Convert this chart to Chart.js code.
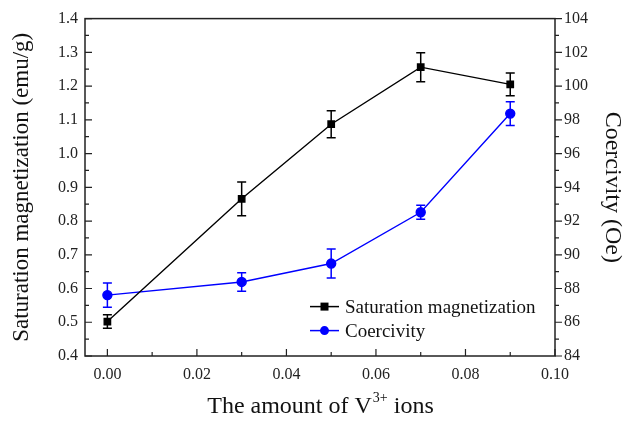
<!DOCTYPE html>
<html>
<head>
<meta charset="utf-8">
<script src="https://cdn.jsdelivr.net/npm/chart.js@4.4.1/dist/chart.umd.min.js"></script>
<style>
  html, body { margin: 0; padding: 0; background: #fff; }
  #wrap { width: 637px; height: 421px; }
</style>
</head>
<body>
<div id="wrap"><canvas id="myChart" width="637" height="421"></canvas></div>
<script>
const vAmount = [0, 0.03, 0.05, 0.07, 0.09];
const magnetization = [0.502, 0.866, 1.087, 1.256, 1.205];
const magnetizationErr = [0.02, 0.05, 0.04, 0.043, 0.034];
const coercivity = [87.61, 88.39, 89.48, 92.52, 98.37];
const coercivityErr = [0.72, 0.55, 0.86, 0.42, 0.7];

const serif = '"Liberation Serif", "Times New Roman", serif';
const axisColor = '#222';

function points(ys) {
    return vAmount.map((x, i) => ({x: x, y: ys[i]}));
}

// error bars, inward/outward ticks, frame, legend and x title
const extras = {
    id: 'extras',
    afterDatasetsDraw(chart) {
        const c = chart.ctx;
        const xs = chart.scales.x;
        chart.data.datasets.forEach((ds, di) => {
            const ys = chart.scales[ds.yAxisID];
            c.save();
            c.strokeStyle = ds.borderColor;
            c.lineWidth = 1.5;
            ds.data.forEach((p, i) => {
                const px = xs.getPixelForValue(p.x);
                const top = ys.getPixelForValue(p.y + ds.errors[i]);
                const bot = ys.getPixelForValue(p.y - ds.errors[i]);
                c.beginPath();
                c.moveTo(px, top); c.lineTo(px, bot);
                c.moveTo(px - 4.5, top); c.lineTo(px + 4.5, top);
                c.moveTo(px - 4.5, bot); c.lineTo(px + 4.5, bot);
                c.stroke();
            });
            c.restore();
        });
    },
    afterDraw(chart) {
        const c = chart.ctx;
        const a = chart.chartArea;
        const xs = chart.scales.x, yl = chart.scales.y, yr = chart.scales.y1;
        c.save();
        c.strokeStyle = axisColor;
        c.lineWidth = 1.5;
        c.strokeRect(a.left, a.top, a.right - a.left, a.bottom - a.top);
        c.lineWidth = 1.2;
        c.beginPath();
        // x axis: ticks inward
        for (let v = 0; v <= 0.1001; v += 0.01) {
            const px = xs.getPixelForValue(v);
            const major = Math.round(v * 100) % 2 === 0;
            c.moveTo(px, a.bottom); c.lineTo(px, a.bottom - (major ? 7 : 4));
        }
        // left y axis: ticks inward
        for (let v = 0.4; v <= 1.4001; v += 0.05) {
            const py = yl.getPixelForValue(v);
            const major = Math.round(v * 100) % 10 === 0;
            c.moveTo(a.left, py); c.lineTo(a.left + (major ? 7 : 4), py);
        }
        // right y axis: ticks outward
        for (let v = 84; v <= 104; v += 1) {
            const py = yr.getPixelForValue(v);
            const major = v % 2 === 0;
            c.moveTo(a.right, py); c.lineTo(a.right + (major ? 7 : 4), py);
        }
        c.stroke();

        // legend
        const lx = a.left + 225, ly = a.top + 288;
        c.font = '19px ' + serif;
        c.textBaseline = 'middle';
        chart.data.datasets.forEach((ds, i) => {
            const y = ly + i * 24;
            c.strokeStyle = ds.borderColor;
            c.fillStyle = ds.borderColor;
            c.lineWidth = 1.5;
            c.beginPath();
            c.moveTo(lx, y); c.lineTo(lx + 29, y);
            c.stroke();
            if (ds.pointStyle === 'rect') {
                c.fillRect(lx + 14.5 - 4, y - 4, 8, 8);
            } else {
                c.beginPath();
                c.arc(lx + 14.5, y, 4.5, 0, Math.PI * 2);
                c.fill();
            }
            c.fillStyle = '#111';
            c.textAlign = 'left';
            c.fillText(ds.label, lx + 35, y + 1);
        });

        // x axis title with superscript
        const main1 = 'The amount of V', sup = '3+', main2 = ' ions';
        c.fillStyle = '#111';
        c.textBaseline = 'alphabetic';
        c.font = '24px ' + serif;
        const w1 = c.measureText(main1).width, w3 = c.measureText(main2).width;
        c.font = '14px ' + serif;
        const w2 = c.measureText(sup).width;
        let tx = (a.left + a.right) / 2 - (w1 + w2 + w3) / 2;
        const ty = a.bottom + 57;
        c.textAlign = 'left';
        c.font = '24px ' + serif;
        c.fillText(main1, tx, ty);
        c.font = '14px ' + serif;
        c.fillText(sup, tx + w1 + 1, ty - 11);
        c.font = '24px ' + serif;
        c.fillText(main2, tx + w1 + w2 + 1, ty);
        c.restore();
    }
};

const ctx = document.getElementById('myChart');
const myChart = new Chart(ctx, {
    type: 'line',
    data: {
        datasets: [{
            label: 'Saturation magnetization',
            data: points(magnetization),
            errors: magnetizationErr,
            yAxisID: 'y',
            borderColor: '#000000',
            backgroundColor: '#000000',
            borderWidth: 1.4,
            pointStyle: 'rect',
            pointRadius: 4.5,
            tension: 0
        }, {
            label: 'Coercivity',
            data: points(coercivity),
            errors: coercivityErr,
            yAxisID: 'y1',
            borderColor: '#0000ff',
            backgroundColor: '#0000ff',
            borderWidth: 1.4,
            pointStyle: 'circle',
            pointRadius: 4.5,
            tension: 0
        }]
    },
    options: {
        responsive: false,
        animation: false,
        layout: { padding: { top: 14, left: 0, right: 0, bottom: 0 } },
        plugins: { legend: { display: false }, tooltip: { enabled: false } },
        scales: {
            x: {
                type: 'linear',
                min: -0.005,
                max: 0.1,
                afterFit: s => { s.height = 65; },
                afterBuildTicks: s => {
                    s.ticks = [0, 0.02, 0.04, 0.06, 0.08, 0.1].map(v => ({value: v}));
                },
                grid: { display: false, drawTicks: false },
                border: { display: false },
                ticks: {
                    padding: 9,
                    maxRotation: 0,
                    color: axisColor,
                    font: { family: serif, size: 16 },
                    callback: v => v.toFixed(2)
                }
            },
            y: {
                position: 'left',
                min: 0.4,
                max: 1.4,
                afterFit: s => { s.width = 85; },
                grid: { display: false, drawTicks: false },
                border: { display: false },
                ticks: {
                    stepSize: 0.1,
                    padding: 7,
                    color: axisColor,
                    font: { family: serif, size: 16 },
                    callback: v => v.toFixed(1)
                },
                title: {
                    display: true,
                    text: 'Saturation magnetization (emu/g)',
                    color: '#111',
                    font: { family: serif, size: 23 },
                    padding: { top: 8, bottom: 0 }
                }
            },
            y1: {
                position: 'right',
                min: 84,
                max: 104,
                afterFit: s => { s.width = 82; },
                grid: { display: false, drawTicks: false },
                border: { display: false },
                ticks: {
                    stepSize: 2,
                    padding: 9,
                    color: axisColor,
                    font: { family: serif, size: 16 }
                },
                title: {
                    display: true,
                    text: 'Coercivity (Oe)',
                    color: '#111',
                    font: { family: serif, size: 24 },
                    padding: { top: 10, bottom: 0 }
                }
            }
        }
    },
    plugins: [extras]
});
</script>
</body>
</html>
